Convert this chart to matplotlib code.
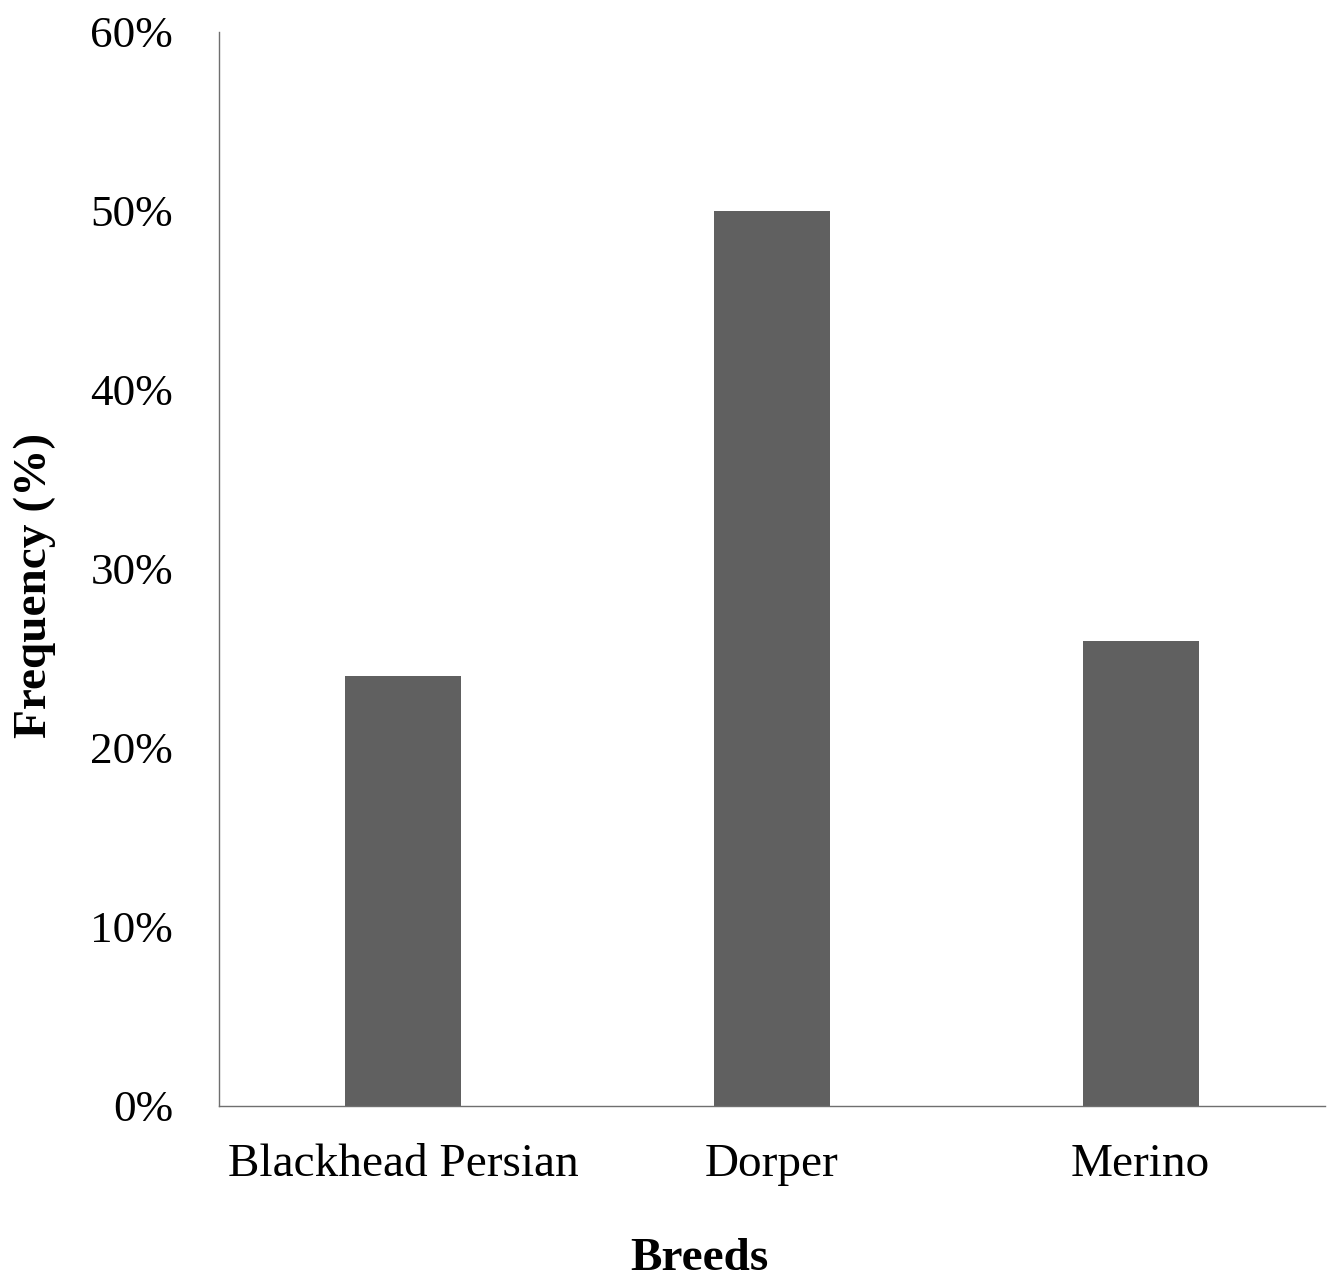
import numpy as np
import matplotlib.pyplot as plt
from matplotlib.ticker import PercentFormatter

breeds = ['Blackhead Persian', 'Dorper', 'Merino']
freq = [24, 50, 26]
yticks = [0, 10, 20, 30, 40, 50, 60]

plt.rcParams['font.family'] = 'Liberation Serif'

fig = plt.figure(figsize=(13.33, 12.79), dpi=100)
ax = fig.add_axes([0.1643, 0.1353, 0.8297, 0.8397])

x = np.arange(len(breeds))
ax.bar(x, freq, width=0.315, color='#606060')

ax.set_xlim(-0.5, 2.5)
ax.set_ylim(0, 60)
ax.set_yticks(yticks)
ax.yaxis.set_major_formatter(PercentFormatter(decimals=0))
ax.set_xticks(x)
ax.set_xticklabels(breeds)

ax.tick_params(axis='y', length=0, pad=33, labelsize=32.5)
ax.tick_params(axis='x', length=0, pad=27, labelsize=34)

for s in ['top', 'right']:
    ax.spines[s].set_visible(False)
for s in ['left', 'bottom']:
    ax.spines[s].set_color('#6f6f6f')
    ax.spines[s].set_linewidth(1.0)

fig.text(0.026, 0.542, 'Frequency (%)', rotation=90, ha='center', va='center',
         fontsize=34, fontweight='bold')
fig.text(0.525, 0.016, 'Breeds', ha='center', va='center',
         fontsize=34, fontweight='bold')

plt.savefig('out.png', dpi=100)
